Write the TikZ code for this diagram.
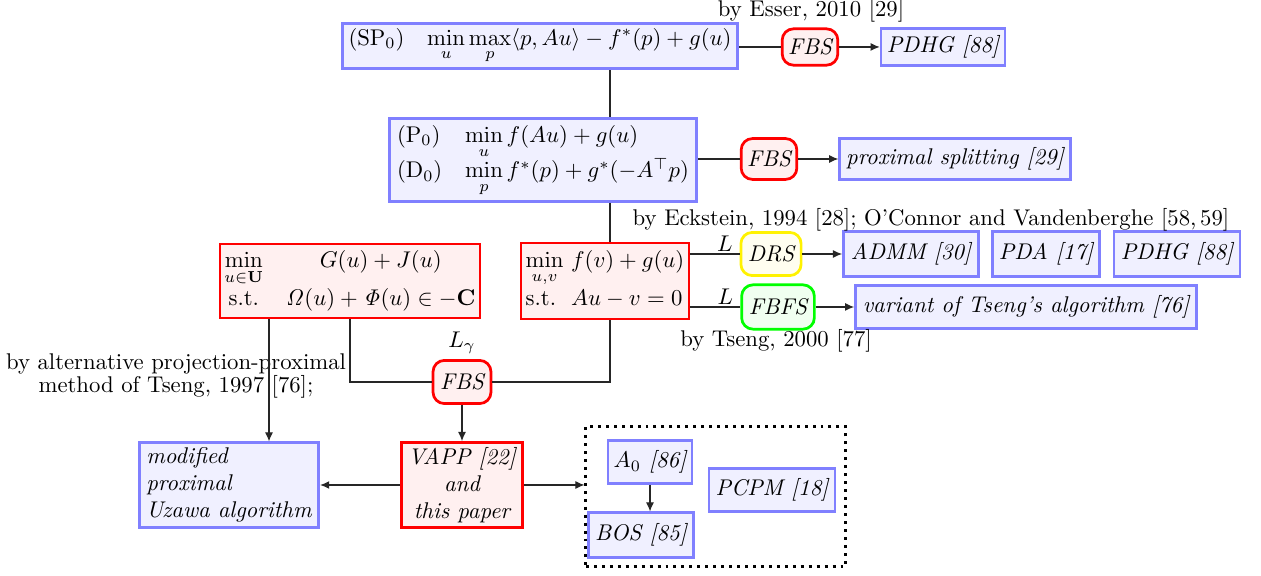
\documentclass[tikz,border=0pt]{standalone}
\usepackage{amsmath,amssymb}
\usetikzlibrary{arrows.meta}
\begin{document}
\begin{tikzpicture}[x=0.44pt,y=-0.44pt,
  bbox/.style={draw=blue!50, fill=blue!6, line width=1.2pt, inner sep=2pt},
  rbox/.style={draw=red, fill=red!6, line width=1.2pt, inner sep=2pt},
  alg/.style={rounded corners=5pt, line width=1.2pt, inner sep=2pt, font=\itshape},
  fbs/.style={alg, draw=red, fill=red!6},
  drs/.style={alg, draw=yellow, fill=yellow!6},
  fbfs/.style={alg, draw=green, fill=green!6},
  conn/.style={draw=black!85, line width=0.5pt},
  arr/.style={conn, -{Latex[length=4pt,width=3.5pt]}},
  lbl/.style={inner sep=0pt},
  grpbox/.style={draw=black, line width=1.3pt, dash pattern=on 1.3pt off 2.2pt}]
\useasboundingbox (0,0) rectangle (1261,576);

% top row
\node[bbox, minimum width=174pt, minimum height=20pt] (SP0) at (540,46)
  {(SP$_0$)\quad $\min\limits_u \max\limits_p \langle p, Au\rangle - f^*(p) + g(u)$};
\node[fbs, minimum width=24.5pt, minimum height=16pt] (FBS1) at (810,47) {FBS};
\node[bbox, font=\itshape, minimum width=54.5pt, minimum height=16.5pt] (PDHG1) at (943,47) {PDHG [88]};
\node[lbl] (esser) at (811,11) {by Esser, 2010 [29]};

% second row
\node[bbox, minimum width=135pt, minimum height=36pt] (P0) at (543,160)
  {$\begin{array}{@{}l@{\quad}l@{}}(\mathrm{P}_0) & \min\limits_u f(Au)+g(u)\\[2pt]
   (\mathrm{D}_0) & \min\limits_p f^*(p)+g^*(-A^\top p)\end{array}$};
\node[fbs, minimum width=24.5pt, minimum height=18pt] (FBS2) at (769,159) {FBS};
\node[bbox, font=\itshape, minimum width=101.5pt, minimum height=18pt] (prox) at (955,159) {proximal splitting [29]};

% third row
\node[rbox, minimum width=112.5pt, minimum height=32.5pt] (LR) at (350,281)
  {$\begin{array}{@{}c@{\quad}c@{}}\min\limits_{u\in\mathbf{U}} & G(u)+J(u)\\
   \text{s.t.} & \mathit{\Omega}(u)+\mathit{\Phi}(u)\in-\mathbf{C}\end{array}$};
\node[rbox, minimum width=74pt, minimum height=33.5pt] (RR) at (605,281)
  {$\begin{array}{@{}l@{\ }l@{}}\min\limits_{u,v} & f(v)+g(u)\\
   \text{s.t.} & Au-v=0\end{array}$};

\node[drs, minimum width=26.5pt, minimum height=19pt] (DRS) at (771,254) {DRS};
\node[fbfs, minimum width=32pt, minimum height=19.5pt] (FBFS) at (778,307) {FBFS};
\node[bbox, font=\itshape, minimum width=59.5pt, minimum height=19.5pt] (ADMM) at (911,254) {ADMM [30]};
\node[bbox, font=\itshape, minimum width=47pt, minimum height=19.5pt] (PDA) at (1046,254) {PDA [17]};
\node[bbox, font=\itshape, minimum width=55.5pt, minimum height=19.5pt] (PDHG2) at (1177,254) {PDHG [88]};
\node[bbox, font=\itshape, minimum width=150pt, minimum height=19pt] (variant) at (1026,307) {variant of Tseng's algorithm [76]};
\node[lbl] (eck) at (931,220) {by Eckstein, 1994 [28]; O'Connor and Vandenberghe [58,\,59]};
\node[lbl] (tseng00) at (776,341) {by Tseng, 2000 [77]};

% FBS at the bottom
\node[fbs, minimum width=25.5pt, minimum height=19pt] (FBS3) at (462,382) {FBS};
\node[lbl] (Lg) at (462,343) {$L_\gamma$};
\node[lbl, align=center] (tseng97) at (176,376) {by alternative projection-proximal\\[-2pt] method of Tseng, 1997 [76];};

% bottom row
\node[bbox, font=\itshape, align=left, minimum width=79pt, minimum height=33pt] (mod) at (229,485)
  {modified\\ proximal\\ Uzawa algorithm};
\node[rbox, font=\itshape, align=center, minimum width=53.5pt, minimum height=33pt] (VAPP) at (462,485)
  {VAPP [22]\\ and\\ this paper};
\node[grpbox, minimum width=114pt, minimum height=62pt] (grp) at (715.5,496.5) {};
\node[bbox, font=\itshape, minimum width=37pt, minimum height=19pt] (A0) at (650,462) {$A_0$ [86]};
\node[bbox, font=\itshape, minimum width=46pt, minimum height=19.5pt] (BOS) at (641,535) {BOS [85]};
\node[bbox, font=\itshape, minimum width=55.5pt, minimum height=19pt] (PCPM) at (772,490) {PCPM [18]};

\coordinate (vx) at (610,0);
\coordinate (mx) at (269,0);

% connectors
\draw[conn] (SP0.east |- FBS1) -- (FBS1.west);
\draw[arr] (FBS1.east) -- (PDHG1.west);
\draw[conn] (SP0.south -| vx) -- (P0.north -| vx);
\draw[conn] (P0.east |- FBS2) -- (FBS2.west);
\draw[arr] (FBS2.east) -- (prox.west);
\draw[conn] (P0.south -| vx) -- (RR.north -| vx);
\draw[conn] (RR.east |- DRS) -- node[pos=0.7, above, inner sep=1pt] {$L$} (DRS.west);
\draw[arr] (DRS.east) -- (DRS.east -| ADMM.west);
\draw[conn] (RR.east |- FBFS) -- node[pos=0.7, above, inner sep=1pt] {$L$} (FBFS.west);
\draw[arr] (FBFS.east) -- (FBFS.east -| variant.west);
\draw[conn] (LR.south) |- (FBS3.west);
\draw[conn] (RR.south -| vx) |- (FBS3.east);
\draw[arr] (LR.south -| mx) -- (mod.north -| mx);
\draw[arr] (FBS3.south) -- (VAPP.north);
\draw[arr] (VAPP.west) -- (mod.east);
\draw[arr] (VAPP.east) -- (VAPP.east -| grp.west);
\draw[arr] (A0.south) -- (A0.south |- BOS.north);
\end{tikzpicture}
\end{document}
